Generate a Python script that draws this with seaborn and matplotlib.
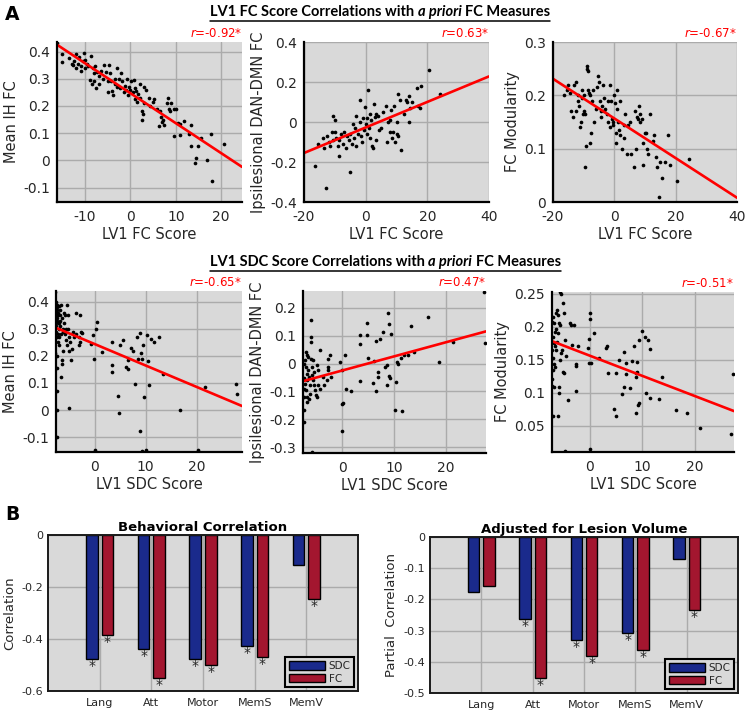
import numpy as np
import pandas as pd
import matplotlib
matplotlib.use('Agg')
import matplotlib.pyplot as plt
from matplotlib.lines import Line2D
from matplotlib.patches import Patch
from matplotlib.ticker import FuncFormatter
import seaborn as sns

# ---------------- data ----------------
# row 1: LV1 FC score (x) vs a priori FC measures (y)
fc_ih_pts = [(-16.1,0.43),(-15.0,0.39),(-15.0,0.36),(-13.5,0.375),(-13.0,0.355),(-12.7,0.35),(-12.5,0.365),
             (-12.0,0.39),(-12.0,0.34),(-11.5,0.355),(-11.3,0.38),(-11.0,0.345),(-10.8,0.33),(-10.5,0.365),
             (-10.3,0.395),(-10.0,0.37),(-10.0,0.34),(-9.5,0.355),(-9.3,0.345),(-9.0,0.295),(-8.7,0.385),
             (-8.5,0.28),(-8.3,0.34),(-8.0,0.32),(-8.0,0.29),(-7.8,0.345),(-7.5,0.265),(-7.3,0.325),(-7.0,0.31),
             (-7.0,0.28),(-6.5,0.33),(-6.0,0.30),(-5.8,0.35),(-5.5,0.325),(-5.0,0.29),(-5.0,0.25),(-4.8,0.35),
             (-4.5,0.32),(-4.3,0.29),(-4.0,0.255),(-3.8,0.24),(-3.5,0.30),(-3.3,0.28),(-3.0,0.34),(-3.0,0.27),
             (-2.5,0.30),(-2.2,0.265),(-2.0,0.32),(-1.8,0.29),(-1.5,0.25),(-1.3,0.275),(-1.0,0.26),(-0.8,0.30),
             (-0.5,0.24),(-0.3,0.27),(0.0,0.26),(0.2,0.29),(0.5,0.25),(0.8,0.295),(1.0,0.265),(1.0,0.225),
             (1.3,0.255),(1.5,0.215),(1.7,0.245),(2.0,0.28),(2.2,0.23),(2.5,0.18),(2.5,0.15),(2.8,0.17),
             (3.0,0.27),(3.0,0.21),(3.5,0.26),(4.0,0.23),(4.3,0.20),(5.0,0.215),(5.3,0.225),(5.8,0.19),
             (6.3,0.125),(6.5,0.18),(6.8,0.16),(7.0,0.14),(7.2,0.15),(7.4,0.13),(8.0,0.21),(8.3,0.23),
             (8.5,0.19),(8.8,0.18),(9.0,0.21),(9.5,0.19),(9.6,0.09),(10.0,0.19),(10.4,0.138),(10.9,0.135),
             (10.9,0.095),(11.7,0.145),(12.9,0.097),(13.3,0.13),(13.4,0.051),(14.2,-0.01),(14.4,0.009),
             (15.0,0.053),(15.5,0.081),(16.8,0.0),(17.7,0.097),(18.0,-0.074),(20.7,0.06)]
fc_dan_pts = [(-16.3,-0.22),(-13.0,-0.33),(-15.5,-0.11),(-14.0,-0.08),(-13.5,-0.13),(-12.5,-0.07),(-12.0,-0.10),
              (-11.5,-0.12),(-11.0,-0.05),(-10.5,-0.09),(-10.5,0.03),(-10.0,-0.05),(-10.0,0.01),(-9.5,-0.08),
              (-9.0,-0.12),(-8.8,-0.17),(-8.5,-0.09),(-8.0,-0.06),(-7.5,-0.11),(-7.0,-0.05),(-6.5,-0.13),
              (-6.0,-0.07),(-5.5,-0.09),(-5.0,-0.25),(-5.0,-0.06),(-4.5,-0.11),(-4.2,-0.01),(-3.8,-0.08),
              (-3.5,-0.03),(-3.2,0.03),(-3.0,-0.12),(-2.5,-0.06),(-2.0,0.11),(-1.8,0.0),(-1.5,-0.07),
              (-1.2,-0.10),(-1.0,0.02),(-0.7,-0.04),(-0.3,0.075),(0.0,-0.01),(0.3,0.02),(0.5,-0.06),(0.8,0.16),
              (1.0,-0.03),(1.3,0.04),(1.5,-0.08),(1.8,0.01),(2.0,-0.12),(2.3,-0.13),(2.6,0.09),(3.0,0.025),
              (3.3,0.04),(3.5,-0.09),(4.0,0.03),(4.3,-0.04),(5.0,-0.03),(5.5,0.05),(6.5,0.08),(7.0,-0.10),
              (7.3,0.0),(7.8,0.01),(8.0,-0.05),(8.3,0.06),(8.7,-0.08),(9.0,-0.05),(9.3,0.08),(9.5,-0.10),
              (10.0,-0.06),(10.0,0.0),(10.5,-0.07),(10.5,0.14),(11.0,0.11),(11.5,-0.14),(12.5,0.04),
              (13.0,0.11),(13.5,0.10),(14.0,0.0),(14.2,0.13),(14.5,0.07),(15.0,0.10),(16.5,0.17),(17.0,0.08),
              (17.5,0.07),(18.0,0.18),(20.7,0.26),(24.2,0.14)]
fc_mod_pts = [(-16.3,0.20),(-15.5,0.21),(-15.0,0.22),(-14.5,0.205),(-14.0,0.17),(-13.5,0.16),(-13.0,0.22),
              (-12.5,0.225),(-12.5,0.17),(-12.0,0.19),(-11.8,0.20),(-11.5,0.18),(-11.3,0.14),(-11.0,0.15),
              (-10.7,0.195),(-10.5,0.21),(-10.3,0.165),(-10.0,0.17),(-9.8,0.20),(-9.5,0.165),(-9.5,0.065),
              (-9.2,0.105),(-9.0,0.255),(-8.8,0.25),(-8.5,0.245),(-8.5,0.21),(-8.2,0.205),(-8.0,0.20),
              (-7.8,0.11),(-7.5,0.13),(-7.2,0.19),(-7.0,0.21),(-6.5,0.15),(-6.0,0.175),(-5.5,0.215),
              (-5.2,0.237),(-5.0,0.225),(-4.8,0.19),(-4.5,0.17),(-4.2,0.16),(-4.0,0.18),(-3.8,0.22),
              (-3.5,0.195),(-3.3,0.17),(-3.0,0.175),(-2.5,0.165),(-2.0,0.19),(-2.0,0.15),(-1.5,0.14),
              (-1.5,0.22),(-1.0,0.19),(-0.7,0.155),(-0.5,0.15),(-0.3,0.145),(0.0,0.20),(0.3,0.185),(0.5,0.13),
              (0.7,0.11),(1.0,0.175),(1.0,0.21),(1.2,0.15),(1.5,0.135),(1.8,0.125),(2.0,0.19),(2.5,0.10),
              (3.0,0.145),(3.3,0.12),(3.5,0.165),(4.0,0.09),(4.5,0.145),(5.0,0.15),(5.5,0.09),(6.3,0.065),
              (6.8,0.17),(7.0,0.10),(7.3,0.16),(7.8,0.155),(8.0,0.18),(8.3,0.165),(8.5,0.15),(9.0,0.155),
              (9.5,0.11),(9.5,0.07),(10.0,0.13),(10.3,0.13),(10.8,0.10),(11.0,0.09),(11.5,0.165),(12.5,0.115),
              (13.0,0.125),(13.5,0.085),(14.0,0.065),(14.5,0.01),(15.0,0.075),(15.5,0.045),(16.5,0.075),
              (17.5,0.125),(18.0,0.07),(20.5,0.04),(24.3,0.08)]

# row 2: LV1 SDC score (x) vs a priori FC measures (y)
sdc_ih_pts = [(-7.7,0.437),(-7.6,0.40),(-7.5,0.38),(-7.4,0.39),(-7.2,0.36),(-7.0,0.385),(-6.8,0.35),(-6.6,0.39),
              (-7.6,0.35),(-7.5,0.33),(-7.3,0.32),(-7.1,0.30),(-6.9,0.33),(-6.7,0.28),(-7.6,0.29),(-7.4,0.27),
              (-7.2,0.25),(-7.0,0.24),(-7.4,0.20),(-7.7,0.21),(-7.4,0.154),(-6.6,0.123),(-6.4,0.185),(-6.3,0.22),
              (-6.0,0.32),(-5.8,0.35),(-5.4,0.39),(-5.2,0.30),(-5.1,0.27),(-5.0,0.22),(-4.8,0.25),(-4.6,0.185),
              (-4.4,0.225),(-5.0,0.006),(-5.6,0.26),(-5.9,0.28),(-6.2,0.30),(-7.65,0.36),(-7.55,0.31),
              (-7.45,0.34),(-7.35,0.37),(-7.25,0.28),(-7.15,0.35),(-7.05,0.32),(-6.95,0.27),(-6.85,0.31),
              (-6.75,0.37),(-6.5,0.34),(-6.3,0.29),(-6.1,0.36),(-5.7,0.30),(-5.5,0.24),(-5.3,0.35),(-4.2,0.29),
              (-4.0,0.27),(-7.4,0.0),(-7.4,-0.1),(-6.4,0.172),(-7.4,0.07),
              (-3.7,0.357),(-2.95,0.353),(-3.6,0.28),(-3.0,0.27),(-2.8,0.25),(-2.6,0.29),(-2.4,0.285),(-3.0,0.24),
              (-0.65,0.244),(-0.3,0.277),(-0.2,0.187),(0.2,0.30),(0.45,0.326),(1.5,0.215),(3.3,0.252),
              (3.4,0.166),(3.4,0.14),(4.6,0.052),(4.8,-0.012),(4.9,0.24),(5.6,0.258),(6.1,0.16),(6.6,0.185),
              (6.6,0.15),(7.2,0.228),(7.5,0.22),(7.9,0.098),(8.2,0.27),(8.5,0.19),(8.85,0.283),(8.85,-0.078),
              (9.0,0.21),(9.2,0.19),(9.4,0.24),(9.6,0.05),(10.2,0.277),(10.5,0.182),(10.7,0.092),(11.1,0.264),
              (11.6,0.252),(12.7,0.27),(13.4,0.135),(16.7,0.0),(21.6,0.084),(27.7,0.098),(27.9,0.059),
              (0.0,-0.147),(10.0,-0.147),(9.2,-0.153),(20.3,-0.147)]
sdc_dan_pts = [(-7.2,0.012),(-7.0,-0.012),(-6.8,-0.036),(-6.7,-0.06),(-7.2,-0.072),(-7.0,-0.096),(-6.8,-0.12),
               (-6.7,-0.138),(-6.5,-0.024),(-6.3,-0.048),(-6.2,-0.078),(-6.0,0.018),(-5.8,-0.012),(-6.2,-0.110),
               (-6.3,-0.126),(-5.8,-0.042),(-5.6,-0.060),(-5.5,-0.030),(-5.4,-0.078),(-5.2,-0.096),(-5.0,-0.114),
               (-4.9,-0.12),(-6.1,0.158),(-6.1,0.096),(-6.1,0.078),(-6.9,0.042),(-6.7,0.030),(-6.5,0.024),
               (-5.7,0.012),(-7.4,-0.168),(-7.35,-0.21),(-5.9,-0.317),(-4.9,-0.006),(-4.6,-0.024),(-4.3,0.048),
               (-4.6,-0.078),(-4.3,-0.09),(-3.6,-0.048),(-3.5,-0.078),(-3.0,-0.060),(-2.8,-0.012),(-2.7,0.018),
               (-2.8,-0.024),(-2.4,0.030),(-2.2,-0.048),(-0.5,0.006),(-0.1,-0.024),(-0.1,-0.144),(0.1,-0.142),
               (-0.1,-0.243),(0.5,0.032),(0.8,-0.09),(1.7,-0.098),(3.4,0.102),(3.4,0.069),(3.4,-0.063),
               (4.7,0.102),(4.8,0.146),(5.0,0.02),(5.9,-0.07),(6.1,0.01),(6.5,0.081),(6.6,-0.098),(7.0,-0.03),
               (7.0,-0.048),(7.3,0.09),(7.8,0.114),(8.3,-0.012),(8.6,-0.006),(8.7,-0.078),(8.9,0.182),
               (9.0,-0.046),(9.1,0.141),(9.2,-0.05),(9.5,0.108),(10.2,-0.165),(10.4,-0.066),(10.5,0.006),
               (10.8,0.0),(11.3,0.02),(11.5,-0.17),(11.9,0.03),(12.8,0.03),(13.2,0.135),(13.9,0.042),
               (16.5,0.168),(18.6,0.005),(21.4,0.078),(27.3,0.257),(27.6,0.074),
               (-7.4,-0.05),(-7.4,-0.12),(-7.3,0.0),(-7.3,-0.09)]
sdc_mod_pts = [(-6.98,0.215),(-6.86,0.205),(-6.67,0.192),(-6.48,0.197),(-6.98,0.185),(-6.79,0.175),(-6.67,0.17),
               (-6.48,0.165),(-6.22,0.177),(-6.03,0.19),(-6.98,0.152),(-6.86,0.144),(-6.67,0.139),(-6.98,0.134),
               (-6.79,0.109),(-6.98,0.064),(-6.35,0.22),(-6.22,0.225),(-6.03,0.217),(-5.84,0.205),(-5.71,0.202),
               (-5.59,0.252),(-5.4,0.25),(-5.08,0.236),(-4.95,0.22),(-6.03,0.064),(-5.84,0.109),(-5.84,0.099),
               (-5.71,0.15),(-5.4,0.16),(-5.21,0.165),(-5.08,0.132),(-4.95,0.129),(-4.76,0.18),(-4.44,0.155),
               (-4.13,0.089),(-3.81,0.205),(-3.49,0.202),(-3.3,0.172),(-3.05,0.202),(-2.67,0.144),(-2.67,0.141),
               (-2.54,0.103),(-2.22,0.171),(-4.63,0.011),(-0.32,0.168),(-0.13,0.182),(0.0,0.211),(0.13,0.22),
               (-0.13,0.145),(0.32,0.145),(0.76,0.191),(1.78,0.153),(3.17,0.167),(3.3,0.17),(3.49,0.129),
               (4.63,0.075),(4.95,0.065),(5.08,0.129),(5.59,0.15),(6.22,0.098),(6.48,0.108),(6.48,0.161),
               (6.86,0.145),(6.98,0.128),(7.62,0.107),(8.13,0.148),(8.38,0.17),(8.76,0.13),(8.89,0.124),
               (8.89,0.069),(9.02,0.147),(9.02,0.132),(9.21,0.081),(9.4,0.084),(9.4,0.18),(10.03,0.193),
               (10.48,0.185),(10.67,0.1),(11.11,0.18),(11.43,0.166),(11.56,0.092),(13.21,0.09),(13.84,0.123),
               (16.38,0.074),(18.54,0.069),(21.08,0.046),(26.98,0.037),(27.3,0.128),(0.0,0.014),
               (-7.17,0.207),(-7.17,0.165),(-7.17,0.12),(-7.17,0.11)]

# fitted regression lines (end points)
fc_ih_fit = [(-16.2, 0.425), (24.6, -0.024)]
fc_dan_fit = [(-20.0, -0.155), (40.0, 0.228)]
fc_mod_fit = [(-20.0, 0.231), (40.0, 0.008)]
sdc_ih_fit = [(-7.6, 0.304), (28.9, 0.015)]
sdc_dan_fit = [(-7.55, -0.063), (27.75, 0.116)]
sdc_mod_fit = [(-7.2, 0.178), (27.5, 0.072)]
r_labels = ['-0.92', '0.63', '-0.67', '-0.65', '0.47', '-0.51']

# panel B
tasks = ['Lang', 'Att', 'Motor', 'MemS', 'MemV']
sdc_beh = [-0.477, -0.437, -0.477, -0.427, -0.117]
fc_beh = [-0.385, -0.551, -0.501, -0.468, -0.247]
sdc_beh_sig = [1, 1, 1, 1, 0]
fc_beh_sig = [1, 1, 1, 1, 1]
sdc_adj = [-0.176, -0.264, -0.330, -0.307, -0.069]
fc_adj = [-0.157, -0.451, -0.383, -0.362, -0.235]
sdc_adj_sig = [0, 1, 1, 1, 0]
fc_adj_sig = [0, 1, 1, 1, 1]

# ---------------- style ----------------
BG = '#d9d9d9'
sns.set_style('whitegrid', {'axes.facecolor': BG, 'grid.color': '#ababab', 'axes.edgecolor': 'black'})
plt.rcParams['font.family'] = ['DejaVu Sans']
plt.rcParams['axes.unicode_minus'] = False
plt.rcParams['text.color'] = '#262626'
plt.rcParams['axes.labelcolor'] = '#262626'

fig = plt.figure(figsize=(7.5, 7.15), dpi=100)
W, H = 750.0, 715.0


def box(l, t, r, b):
    return [l / W, 1 - b / H, (r - l) / W, (b - t) / H]


fmt = FuncFormatter(lambda v, p: '%g' % round(v, 4))


def scatter_panel(rect, pts, fit, r, xlim, ylim, xticks, yticks, xlabel, ylabel):
    ax = fig.add_axes(rect)
    df = pd.DataFrame(pts, columns=['score', 'measure'])
    sns.scatterplot(data=df, x='score', y='measure', ax=ax, color='black', s=7, linewidth=0)
    fdf = pd.DataFrame(fit, columns=['score', 'measure'])
    sns.lineplot(data=fdf, x='score', y='measure', ax=ax, color='red', lw=1.9)
    ax.set_xlim(xlim)
    ax.set_ylim(ylim)
    ax.set_xticks(xticks)
    ax.set_yticks(yticks)
    ax.xaxis.set_major_formatter(fmt)
    ax.yaxis.set_major_formatter(fmt)
    ax.grid(True, lw=1.0)
    for s in ['top', 'right']:
        ax.spines[s].set_visible(False)
    for s in ['left', 'bottom']:
        ax.spines[s].set_linewidth(1.6)
    ax.tick_params(direction='in', length=3, width=1, color='black', labelsize=10, labelcolor='#262626')
    ax.tick_params(axis='x', pad=6)
    ax.tick_params(axis='y', pad=5)
    ax.set_xlabel(xlabel, fontsize=10.5, labelpad=2)
    ax.set_ylabel(ylabel, fontsize=10.5, labelpad=3)
    ax.text(1.0, 1.01, r'$\it{r}$=' + r + '*', transform=ax.transAxes, ha='right', va='bottom',
            color='red', fontsize=8.5)
    return ax


xl_fc = 'LV1 FC Score'
xl_sdc = 'LV1 SDC Score'
scatter_panel(box(57, 42, 242, 202), fc_ih_pts, fc_ih_fit, r_labels[0], (-16.2, 24.6), (-0.153, 0.435),
              [-10, 0, 10, 20], [-0.1, 0, 0.1, 0.2, 0.3, 0.4], xl_fc, 'Mean IH FC')
scatter_panel(box(304, 42, 489, 202), fc_dan_pts, fc_dan_fit, r_labels[1], (-20, 40), (-0.4, 0.4),
              [-20, 0, 20, 40], [-0.4, -0.2, 0, 0.2, 0.4], xl_fc, 'Ipsilesional DAN-DMN FC')
scatter_panel(box(553, 42, 737, 202), fc_mod_pts, fc_mod_fit, r_labels[2], (-20, 40), (0, 0.3),
              [-20, 0, 20, 40], [0, 0.1, 0.2, 0.3], xl_fc, 'FC Modularity')
scatter_panel(box(56, 291, 242, 452), sdc_ih_pts, sdc_ih_fit, r_labels[3], (-7.6, 28.9), (-0.155, 0.44),
              [0, 10, 20], [-0.1, 0, 0.1, 0.2, 0.3, 0.4], xl_sdc, 'Mean IH FC')
scatter_panel(box(303, 291, 486, 453), sdc_dan_pts, sdc_dan_fit, r_labels[4], (-7.55, 27.75), (-0.321, 0.261),
              [0, 10, 20], [-0.3, -0.2, -0.1, 0, 0.1, 0.2], xl_sdc, 'Ipsilesional DAN-DMN FC')
scatter_panel(box(552, 292, 734, 452), sdc_mod_pts, sdc_mod_fit, r_labels[5], (-7.2, 27.5), (0.01, 0.2525),
              [0, 10, 20], [0.05, 0.1, 0.15, 0.2, 0.25], xl_sdc, 'FC Modularity')

# ---------------- bar panels ----------------
pal = {'SDC': '#1a2a8c', 'FC': '#a3162f'}


def bar_panel(rect, sdc, fc, sdc_sig, fc_sig, title, ylabel, ylim, yticks):
    ax = fig.add_axes(rect)
    df = pd.DataFrame({'task': tasks * 2, 'measure': ['SDC'] * 5 + ['FC'] * 5, 'r': sdc + fc})
    sns.barplot(data=df, x='task', y='r', hue='measure', order=tasks, hue_order=['SDC', 'FC'],
                palette=pal, saturation=1, width=0.6, gap=0.25, edgecolor='black', linewidth=1.0,
                ax=ax, legend=False)
    for cont, sig in zip(ax.containers, [sdc_sig, fc_sig]):
        for bar, flag in zip(cont, sig):
            if flag:
                ax.text(bar.get_x() + bar.get_width() / 2, bar.get_y() + bar.get_height(), '*',
                        ha='center', va='top', fontsize=10, color='#262626')
    ax.set_xlim(-1, 5)
    ax.set_ylim(ylim)
    ax.set_yticks(yticks)
    ax.yaxis.set_major_formatter(fmt)
    ax.grid(True, axis='both', lw=1.0)
    for s in ax.spines.values():
        s.set_linewidth(1.4)
        s.set_color('#1a1a1a')
    ax.tick_params(axis='x', length=0, labelsize=8, pad=5, labelcolor='#262626')
    ax.tick_params(axis='y', direction='in', length=3, labelsize=8, labelcolor='#262626')
    ax.set_xlabel('')
    ax.set_ylabel(ylabel, fontsize=9.5, labelpad=4)
    ax.set_title(title, fontsize=9.5, fontweight='bold', pad=3, color='black')
    handles = [Patch(facecolor=pal[k], edgecolor='black', label=k) for k in ['SDC', 'FC']]
    leg = ax.legend(handles=handles, loc='lower right', fontsize=7.5, fancybox=False, framealpha=1,
                    facecolor=BG, edgecolor='black', handlelength=3.4, handleheight=0.9,
                    borderaxespad=0.35, borderpad=0.35, labelspacing=0.25, handletextpad=0.4)
    leg.get_frame().set_linewidth(1.5)
    return ax


bar_panel(box(48, 535, 358, 691), sdc_beh, fc_beh, sdc_beh_sig, fc_beh_sig, 'Behavioral Correlation',
          'Correlation', (-0.6, 0), [-0.6, -0.4, -0.2, 0])
bar_panel(box(430, 537, 738, 693), sdc_adj, fc_adj, sdc_adj_sig, fc_adj_sig, 'Adjusted for Lesion Volume',
          'Partial  Correlation', (-0.5, 0), [-0.5, -0.4, -0.3, -0.2, -0.1, 0])

# ---------------- section titles (underlined) and panel letters ----------------
renderer = fig.canvas.get_renderer()


def section_title(baseline_px, x_left_px, parts, size=10.5):
    txts = [fig.text(0, 1 - baseline_px / H, s, fontsize=size, fontweight='bold', fontstyle=st,
                     family=['Lato', 'DejaVu Sans'], va='baseline', color='black') for s, st in parts]
    gap = 0.24 * size * fig.dpi / 72
    x = x_left_px
    for t in txts:
        t.set_x(x / W)
        x += t.get_window_extent(renderer).width + gap
    x -= gap
    yline = 1 - (baseline_px + 4.5) / H
    fig.add_artist(Line2D([x_left_px / W, x / W], [yline, yline], color='black', lw=1.1,
                          transform=fig.transFigure))


section_title(16, 210, [('LV1 FC Score Correlations with', 'normal'), ('a priori', 'italic'),
                        ('FC Measures', 'normal')])
section_title(266, 210, [('LV1 SDC Score Correlations with', 'normal'), ('a priori', 'italic'),
                         ('FC Measures', 'normal')])

fig.text(12 / W, 1 - 15 / H, 'A', fontsize=13.5, fontweight='bold', ha='center', va='center', color='black')
fig.text(12 / W, 1 - 515 / H, 'B', fontsize=13.5, fontweight='bold', ha='center', va='center', color='black')

fig.savefig('out.png', dpi=100)
